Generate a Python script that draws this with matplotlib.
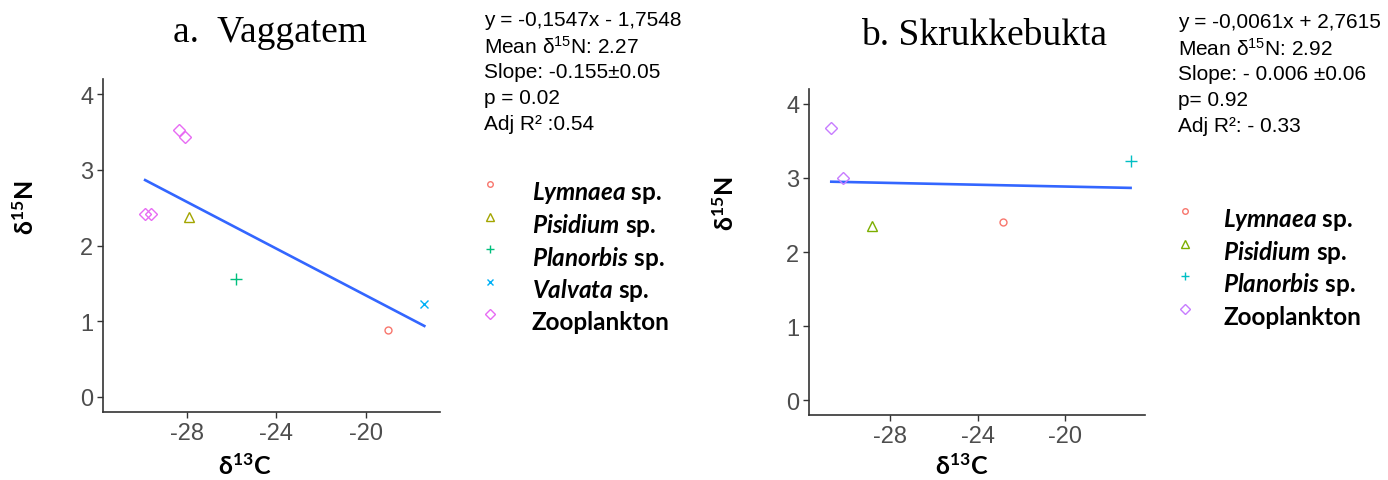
import matplotlib
matplotlib.use('Agg')
import matplotlib.pyplot as plt
import numpy as np
from matplotlib.lines import Line2D

plt.rcParams['axes.unicode_minus'] = False
plt.rcParams['mathtext.fontset'] = 'custom'
plt.rcParams['mathtext.rm'] = 'Liberation Sans'
plt.rcParams['mathtext.it'] = 'Lato:style=italic:weight=bold'
plt.rcParams['mathtext.bf'] = 'Lato:weight=bold'

# ---- data: panel a (Vaggatem) ----
a_species = ['Lymnaea', 'Pisidium', 'Planorbis', 'Valvata', 'Zooplankton']
a_x = {'Lymnaea': [-19.0], 'Pisidium': [-27.9], 'Planorbis': [-25.8],
       'Valvata': [-17.4], 'Zooplankton': [-28.33, -28.08, -29.86, -29.6]}
a_y = {'Lymnaea': [0.88], 'Pisidium': [2.37], 'Planorbis': [1.56],
       'Valvata': [1.23], 'Zooplankton': [3.52, 3.43, 2.41, 2.42]}
a_fit = (-0.1547, -1.7548)
a_stats = ['y = -0,1547x - 1,7548', 'Mean δ$^{15}$N: 2.27', 'Slope: -0.155±0.05',
           'p = 0.02', 'Adj R² :0.54']

# ---- data: panel b (Skrukkebukta) ----
b_species = ['Lymnaea', 'Pisidium', 'Planorbis', 'Zooplankton']
b_x = {'Lymnaea': [-22.83], 'Pisidium': [-28.85], 'Planorbis': [-17.0],
       'Zooplankton': [-30.70, -30.18]}
b_y = {'Lymnaea': [2.40], 'Pisidium': [2.35], 'Planorbis': [3.23],
       'Zooplankton': [3.67, 3.00]}
b_fit = (-0.0061, 2.7615)
b_stats = ['y = -0,0061x + 2,7615', 'Mean δ$^{15}$N: 2.92', 'Slope: - 0.006 ±0.06',
           'p= 0.92', 'Adj R²: - 0.33']

x_ticks = [-28, -24, -20]
y_ticks = [0, 1, 2, 3, 4]

# ggplot-like shapes and hue palette
MARKERS = {'Lymnaea': ('o', 5), 'Pisidium': ('^', 7), 'Planorbis': ('+', 8),
           'Valvata': ('x', 6), 'Zooplankton': ('D', 6)}
a_colors = {'Lymnaea': '#F8766D', 'Pisidium': '#A3A500', 'Planorbis': '#00BF7D',
            'Valvata': '#00B0F6', 'Zooplankton': '#E76BF3'}
b_colors = {'Lymnaea': '#F8766D', 'Pisidium': '#7CAE00', 'Planorbis': '#00BFC4',
            'Zooplankton': '#C77CFF'}

W, H = 1388, 481
fig = plt.figure(figsize=(W / 100, H / 100), dpi=100)


def fx(px):
    return px / W


def fy(py):
    return 1 - py / H


def draw_panel(rect, xs, ys, species, colors, fit, xlim):
    ax = fig.add_axes(rect)
    for sp in species:
        m, ms = MARKERS[sp]
        ax.plot(xs[sp], ys[sp], linestyle='none', marker=m, ms=ms,
                mfc='none', mec=colors[sp], mew=1.0, zorder=3)
    allx = np.concatenate([xs[s] for s in species])
    lx = np.array([allx.min(), allx.max()])
    ax.plot(lx, fit[0] * lx + fit[1], color='#3366FF', lw=1.9, zorder=2)
    ax.set_xlim(*xlim)
    ax.set_ylim(-0.2, 4.2)
    ax.set_xticks(x_ticks)
    ax.set_yticks(y_ticks)
    for s in ['top', 'right']:
        ax.spines[s].set_visible(False)
    for s in ['left', 'bottom']:
        ax.spines[s].set_color('#333333')
        ax.spines[s].set_linewidth(1.2)
    ax.tick_params(colors='#333333', labelcolor='#4D4D4D', length=4, width=1,
                   labelsize=17, pad=3)
    for lab in ax.get_xticklabels() + ax.get_yticklabels():
        lab.set_family('Liberation Sans')
    return ax


ax_a = draw_panel([fx(103), fy(413), fx(337), (413 - 80) / H], a_x, a_y, a_species,
                  a_colors, a_fit, (-31.74, -16.7))
ax_b = draw_panel([fx(809), fy(416), fx(336), (416 - 90) / H], b_x, b_y, b_species,
                  b_colors, b_fit, (-31.72, -16.34))

# titles
fig.text(fx(270), fy(33), 'a.  Vaggatem', family='Liberation Serif', fontsize=27,
         ha='center', va='center')
fig.text(fx(984), fy(36), 'b. Skrukkebukta', family='Liberation Serif', fontsize=27,
         ha='center', va='center')

# axis labels
lab_kw = dict(family='Lato', fontweight='bold', fontsize=18, ha='center', va='center')
fig.text(fx(25), fy(208), r'δ$^{\mathbf{15}}$N', rotation=90, **lab_kw)
fig.text(fx(725), fy(204), r'δ$^{\mathbf{15}}$N', rotation=90, **lab_kw)
fig.text(fx(245), fy(466), r'δ$^{\mathbf{13}}$C', **lab_kw)
fig.text(fx(962), fy(466), r'δ$^{\mathbf{13}}$C', **lab_kw)

# stats text
for i, line in enumerate(a_stats):
    fig.text(fx(484), fy(21 + 26 * i), line, family='Liberation Sans', fontsize=15,
             va='center', ha='left')
for i, line in enumerate(b_stats):
    fig.text(fx(1178), fy(23 + 26 * i), line, family='Liberation Sans', fontsize=15,
             va='center', ha='left')


def legend(species, colors, mx, tx, ty0, step):
    for i, sp in enumerate(species):
        m, ms = MARKERS[sp]
        y = ty0 + step * i
        fig.add_artist(Line2D([fx(mx)], [fy(y - 8)], transform=fig.transFigure,
                              linestyle='none', marker=m, ms=ms * 0.8,
                              mfc='none', mec=colors[sp], mew=1.0))
        label = sp if sp == 'Zooplankton' else r'$\it{' + sp + '}$ sp.'
        fig.text(fx(tx), fy(y), label, family='Lato', fontweight='bold', fontsize=17.5,
                 va='center', ha='left')


legend(a_species, a_colors, 490, 532, 193, 32.5)
legend(b_species, b_colors, 1185, 1223, 220, 32.5)

fig.savefig('out.png', dpi=100)
